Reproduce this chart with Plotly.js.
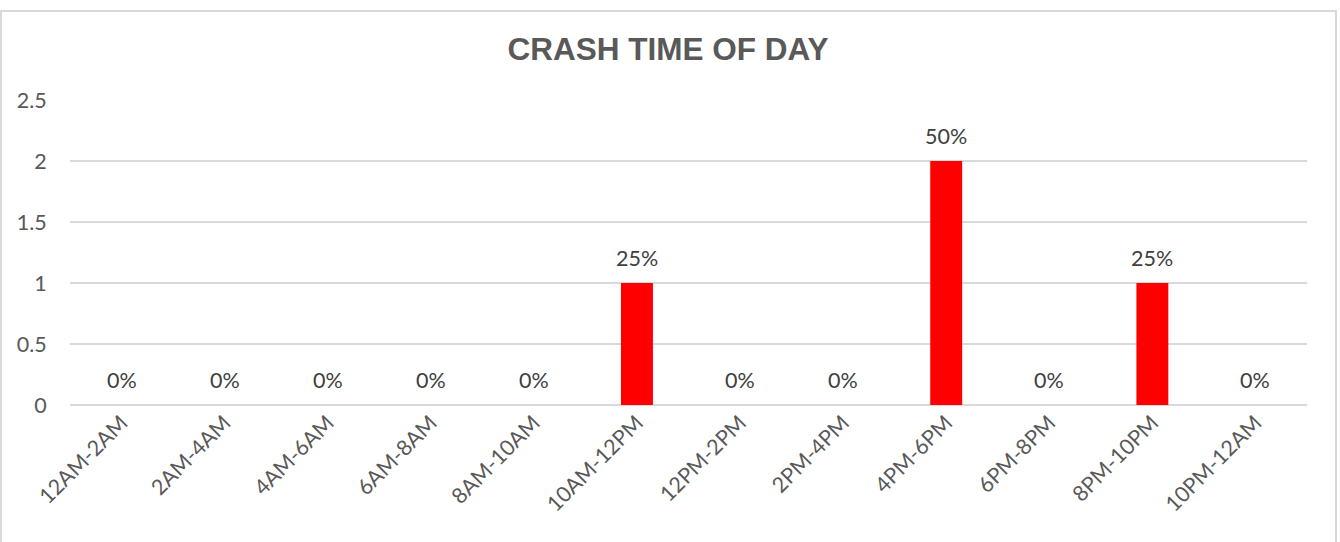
<!DOCTYPE html>
<html>
<head>
<meta charset="utf-8">
<script src="https://cdn.plot.ly/plotly-3.0.1.min.js"></script>
<style>
  html, body { margin: 0; padding: 0; background: #ffffff; }
  #frame { position: absolute; left: 0; top: 10px; width: 1337px; height: 540px; border: 2px solid #d9d9d9; box-sizing: border-box; }
  #chart { position: absolute; left: 0; top: 0; width: 1340px; height: 542px; }
</style>
</head>
<body>
<div id="frame"></div>
<div id="chart"></div>
<script>
const categories = ["12AM-2AM", "2AM-4AM", "4AM-6AM", "6AM-8AM", "8AM-10AM", "10AM-12PM",
                    "12PM-2PM", "2PM-4PM", "4PM-6PM", "6PM-8PM", "8PM-10PM", "10PM-12AM"];
const crashes = [0, 0, 0, 0, 0, 1, 0, 0, 2, 0, 1, 0];
const yTicks = [0, 0.5, 1, 1.5, 2, 2.5];
const chartTitle = "CRASH TIME OF DAY";

const total = crashes.reduce((a, b) => a + b, 0);
const pctLabels = crashes.map(v => Math.round(v / total * 100) + "%");

const textFont = { family: "Lato, 'Open Sans', sans-serif", size: 21.5, color: "#404040" };
const axisFont = { family: "Lato, 'Open Sans', sans-serif", size: 21.5, color: "#595959" };

const trace = {
  type: "bar",
  x: categories,
  y: crashes,
  marker: { color: "#ff0000" },
  hoverinfo: "x+y"
};

const annotations = categories.map((c, i) => ({
  x: c, y: crashes[i], xref: "x", yref: "y",
  text: pctLabels[i], showarrow: false,
  yanchor: "middle", yshift: 25,
  font: textFont
}));

const layout = {
  width: 1340, height: 542,
  paper_bgcolor: "rgba(0,0,0,0)",
  plot_bgcolor: "rgba(0,0,0,0)",
  margin: { l: 70, r: 33, t: 100, b: 137 },
  bargap: 0.69,
  showlegend: false,
  title: {
    text: "<b>" + chartTitle + "</b>",
    font: { family: "'Liberation Sans', Arial, sans-serif", size: 31.5, color: "#595959" },
    x: 0.4985, xanchor: "center", y: 0.909, yanchor: "middle"
  },
  xaxis: {
    type: "category",
    tickangle: -45,
    tickfont: axisFont,
    showgrid: false,
    showline: false,
    ticks: "",
    zeroline: false
  },
  yaxis: {
    range: [0, 2.5],
    tickvals: yTicks,
    ticktext: yTicks.map(String),
    tickfont: axisFont,
    showgrid: true,
    gridcolor: "#d9d9d9",
    gridwidth: 1.5,
    zeroline: true,
    zerolinecolor: "#d9d9d9",
    zerolinewidth: 1.5,
    showline: false,
    ticks: "outside",
    ticklen: 18,
    tickcolor: "rgba(0,0,0,0)"
  },
  annotations: annotations
};

Plotly.newPlot("chart", [trace], layout, { displayModeBar: false, staticPlot: true });
</script>
</body>
</html>
